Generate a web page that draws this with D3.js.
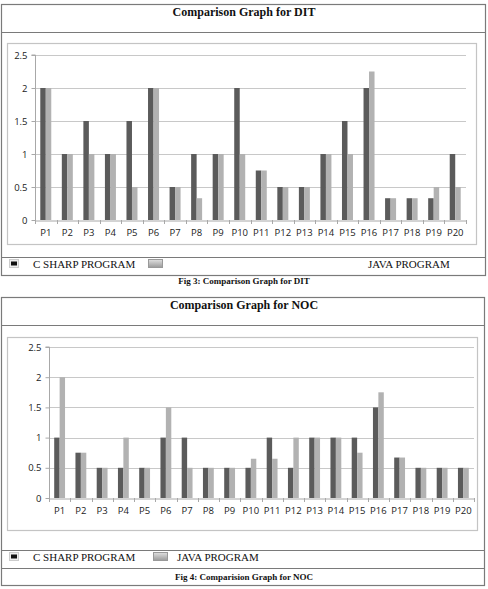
<!DOCTYPE html>
<html><head><meta charset="utf-8">
<script src="https://cdn.jsdelivr.net/npm/d3@7"></script>
<style>body{margin:0;background:#fff}svg{display:block}</style>
</head><body>
<svg id="c" width="488" height="589"></svg>
<script>
const categories = ["P1","P2","P3","P4","P5","P6","P7","P8","P9","P10","P11","P12","P13","P14","P15","P16","P17","P18","P19","P20"];
const seriesNames = ["C SHARP PROGRAM","JAVA PROGRAM"];
const ditCSharp = [2,1,1.5,1,1.5,2,0.5,1,1,2,0.75,0.5,0.5,1,1.5,2,0.33,0.33,0.33,1];
const ditJava   = [2,1,1,1,0.5,2,0.5,0.33,1,1,0.75,0.5,0.5,1,1,2.25,0.33,0.33,0.5,0.5];
const nocCSharp = [1,0.75,0.5,0.5,0.5,1,1,0.5,0.5,0.5,1,0.5,1,1,1,1.5,0.67,0.5,0.5,0.5];
const nocJava   = [2,0.75,0.5,1,0.5,1.5,0.5,0.5,0.5,0.65,0.65,1,1,1,0.75,1.75,0.67,0.5,0.5,0.5];
const yTicks = [0,0.5,1,1.5,2,2.5];
const titles = ["Comparison Graph for DIT","Comparison Graph for NOC"];
const captions = ["Fig 3: Comparison Graph for DIT","Fig 4: Comparision Graph for NOC"];

const svg = d3.select("#c");
const defs = svg.append("defs");
const g1 = defs.append("linearGradient").attr("id","lg").attr("x1",0).attr("y1",0).attr("x2",0).attr("y2",1);
g1.append("stop").attr("offset","0%").attr("stop-color","#e0e0e0");
g1.append("stop").attr("offset","100%").attr("stop-color","#9a9a9a");

const DARK = "#5b5b5b", LIGHT = "#b2b2b2";

function drawFigure(o){
  const g = svg.append("g");
  g.append("rect").attr("x",1.5).attr("y",o.top+0.5).attr("width",o.outerW).attr("height",o.outerH)
    .attr("fill","none").attr("stroke","#7a7a7a").attr("stroke-width",1.2);
  g.append("line").attr("x1",1.5).attr("x2",1.5+o.outerW).attr("y1",o.titleLine+0.5).attr("y2",o.titleLine+0.5)
    .attr("stroke","#7a7a7a").attr("stroke-width",1.2);
  g.append("text").attr("x",244).attr("y",o.titleY).attr("text-anchor","middle")
    .attr("font-family","Liberation Serif").attr("font-weight","bold").attr("font-size",12).attr("fill","#111")
    .text(o.title);
  g.append("rect").attr("x",7.5).attr("y",o.boxTop+0.5).attr("width",o.boxRight-7).attr("height",o.boxBottom-o.boxTop)
    .attr("fill","#fff").attr("stroke","#c4c4c4").attr("stroke-width",1.2);

  const y = d3.scaleLinear().domain([0,2.5]).range([o.y0,o.y25]);
  const x0 = d3.scaleBand().domain(categories).range([o.left,o.right]).padding(0);
  const x1 = d3.scaleBand().domain([0,1]).range([0,x0.bandwidth()]).paddingInner(0).paddingOuter(0.96);

  g.append("g").selectAll("line").data(yTicks.slice(1)).join("line")
    .attr("x1",o.left).attr("x2",o.right).attr("y1",d=>Math.round(y(d))+0.5).attr("y2",d=>Math.round(y(d))+0.5)
    .attr("stroke","#c8c8c8").attr("stroke-width",1);
  const ya = g.append("g").attr("transform",`translate(${o.left+0.5},0)`)
    .call(d3.axisLeft(y).tickValues(yTicks).tickSize(4).tickPadding(4).tickFormat(d3.format("")));
  ya.select(".domain").attr("stroke","#a8a8a8").attr("d",`M-4,${o.y25}H0V${o.y0}`);
  ya.selectAll(".tick line").attr("stroke","#a8a8a8");
  ya.selectAll(".tick text").attr("font-family","Open Sans").attr("font-size",9.5).attr("fill","#222");

  const vals = [o.a,o.b];
  const groups = g.append("g").selectAll("g").data(categories).join("g")
    .attr("transform",(d)=>`translate(${x0(d)},0)`);
  groups.selectAll("rect").data((d,i)=>[0,1].map(s=>({s,v:vals[s][i]}))).join("rect")
    .attr("x",d=>x1(d.s)).attr("width",x1.bandwidth())
    .attr("y",d=>y(d.v)).attr("height",d=>y(0)-y(d.v))
    .attr("fill",d=>d.s===0?DARK:LIGHT);

  const xa = g.append("g").attr("transform",`translate(0,${o.y0+0.5})`)
    .call(d3.axisBottom(x0).tickSize(0).tickPadding(9));
  xa.select(".domain").attr("stroke","#a8a8a8");
  xa.selectAll(".tick text").attr("font-family","Open Sans").attr("font-size",9.5).attr("fill","#222");
  g.append("g").selectAll("line").data(d3.range(categories.length+1)).join("line")
    .attr("x1",i=>Math.round(o.left+i*x0.bandwidth())+0.5).attr("x2",i=>Math.round(o.left+i*x0.bandwidth())+0.5)
    .attr("y1",o.y0).attr("y2",o.y0+4).attr("stroke","#a8a8a8");

  g.append("line").attr("x1",1.5).attr("x2",1.5+o.outerW).attr("y1",o.legLine+0.5).attr("y2",o.legLine+0.5)
    .attr("stroke","#7a7a7a").attr("stroke-width",1.2);
  const ly = o.legY;
  g.append("rect").attr("x",9.5).attr("y",ly-4.5).attr("width",9).attr("height",8).attr("fill","#eee").attr("stroke","#ccc");
  g.append("rect").attr("x",11).attr("y",ly-2.5).attr("width",6).attr("height",4).attr("fill","#111");
  g.append("text").attr("x",33).attr("y",ly+4).attr("font-family","Liberation Serif").attr("font-size",11).attr("fill","#111")
    .text(seriesNames[0]);
  g.append("rect").attr("x",o.javaIconX+0.5).attr("y",ly-4.5).attr("width",14).attr("height",8)
    .attr("fill","url(#lg)").attr("stroke","#999");
  g.append("text").attr("x",o.javaTextX).attr("y",ly+4).attr("font-family","Liberation Serif").attr("font-size",11).attr("fill","#111")
    .text(seriesNames[1]);
  if(o.capLine){
    g.append("line").attr("x1",1.5).attr("x2",1.5+o.outerW).attr("y1",o.capLine+0.5).attr("y2",o.capLine+0.5)
      .attr("stroke","#7a7a7a").attr("stroke-width",1.2);
  }
  g.append("text").attr("x",244).attr("y",o.capY).attr("text-anchor","middle")
    .attr("font-family","Liberation Serif").attr("font-weight","bold").attr("font-size",9).attr("fill","#111")
    .text(o.caption);
}

drawFigure({top:4, outerW:484, outerH:271, titleLine:32, titleY:16, title:titles[0],
  boxTop:43, boxRight:476, boxBottom:244, left:35, right:466, y0:220, y25:55,
  a:ditCSharp, b:ditJava, legLine:257, legY:264, javaIconX:148, javaTextX:368,
  capLine:null, capY:284, caption:captions[0]});
drawFigure({top:297, outerW:483, outerH:288, titleLine:325, titleY:309, title:titles[1],
  boxTop:337, boxRight:477, boxBottom:530, left:49, right:474, y0:498, y25:347,
  a:nocCSharp, b:nocJava, legLine:550, legY:557, javaIconX:153, javaTextX:177,
  capLine:568, capY:580, caption:captions[1]});
</script>
</body></html>
